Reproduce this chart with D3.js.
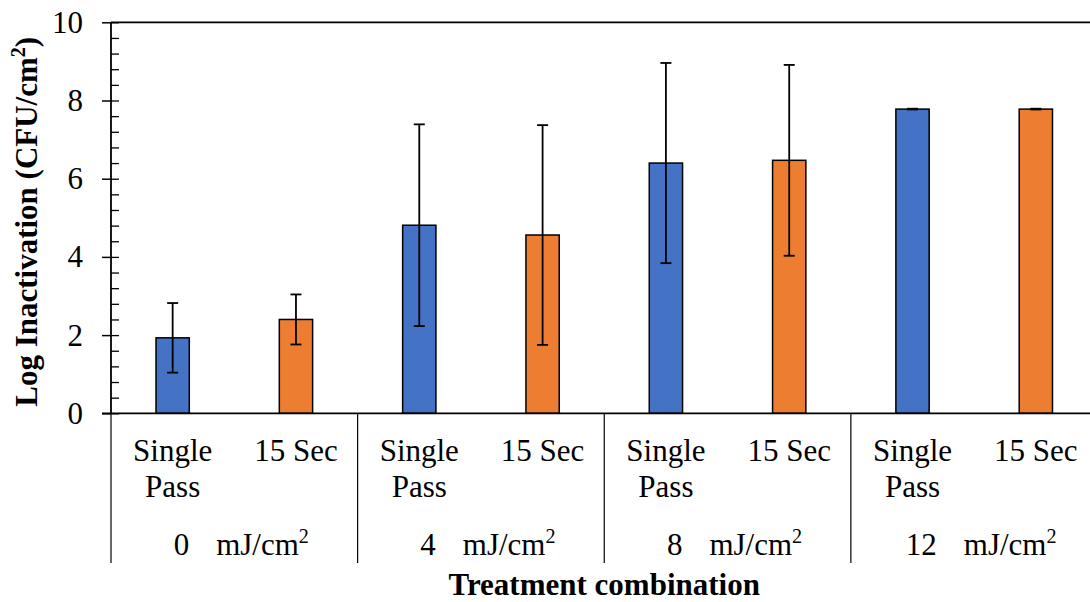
<!DOCTYPE html>
<html>
<head>
<meta charset="utf-8">
<script src="https://cdn.jsdelivr.net/npm/d3@7"></script>
</head>
<body style="margin:0">
<svg id="chart" width="1090" height="602"></svg>
<script>
// Dose groups (mJ/cm²) and exposure modes
const doses = ["0", "4", "8", "12"];
const modes = ["Single Pass", "15 Sec"];
const modeLines = [["Single", "Pass"], ["15 Sec"]];
const modeColors = ["#4472C4", "#ED7D31"];

// Mean log inactivation per dose, one array per mode
const singlePassMean = [1.93, 4.81, 6.40, 7.78];
const fifteenSecMean = [2.40, 4.56, 6.47, 7.78];
// Error bar half-widths
const singlePassErr = [0.89, 2.58, 2.56, 0.01];
const fifteenSecErr = [0.64, 2.81, 2.44, 0.01];

const yTicks = [0, 2, 4, 6, 8, 10];
const yMinorStep = 0.4;

const svg = d3.select("#chart");
const fontSize = 31;
const serif = '"Liberation Serif"';

const plotLeft = 111, plotRight = 1097.5, plotTop = 22.3, plotBottom = 413.3, catBottom = 563;

const x0 = d3.scaleBand().domain(doses).range([plotLeft, plotRight]).padding(0);
const x1 = d3.scaleBand().domain(modes).range([0, x0.bandwidth()])
  .paddingInner(0.73).paddingOuter(0.365);
const y = d3.scaleLinear().domain([0, 10]).range([plotBottom, plotTop]);

const rows = [];
doses.forEach((d, i) => {
  rows.push({ dose: d, mode: modes[0], value: singlePassMean[i], err: singlePassErr[i], color: modeColors[0] });
  rows.push({ dose: d, mode: modes[1], value: fifteenSecMean[i], err: fifteenSecErr[i], color: modeColors[1] });
});

// Top frame line
svg.append("line")
  .attr("x1", plotLeft).attr("x2", 1090).attr("y1", plotTop).attr("y2", plotTop)
  .attr("stroke", "#000").attr("stroke-width", 1.8);

// Bars
svg.append("g").selectAll("rect").data(rows).join("rect")
  .attr("x", d => x0(d.dose) + x1(d.mode))
  .attr("width", x1.bandwidth())
  .attr("y", d => y(d.value))
  .attr("height", d => y(0) - y(d.value))
  .attr("fill", d => d.color)
  .attr("stroke", "#000").attr("stroke-width", 1.5);

// Error bars
const eb = svg.append("g").attr("stroke", "#000").attr("stroke-width", 1.8);
const cx = d => x0(d.dose) + x1(d.mode) + x1.bandwidth() / 2;
eb.selectAll("line.v").data(rows).join("line").attr("class", "v")
  .attr("x1", cx).attr("x2", cx)
  .attr("y1", d => y(d.value + d.err)).attr("y2", d => y(d.value - d.err));
eb.selectAll("line.t").data(rows).join("line").attr("class", "t")
  .attr("x1", d => cx(d) - 5.5).attr("x2", d => cx(d) + 5.5)
  .attr("y1", d => y(d.value + d.err)).attr("y2", d => y(d.value + d.err));
eb.selectAll("line.b").data(rows).join("line").attr("class", "b")
  .attr("x1", d => cx(d) - 5.5).attr("x2", d => cx(d) + 5.5)
  .attr("y1", d => y(d.value - d.err)).attr("y2", d => y(d.value - d.err));

// Y axis: major ticks crossing the axis, minor ticks inside
const yAxis = svg.append("g").attr("transform", `translate(${plotLeft},0)`)
  .call(d3.axisLeft(y).tickValues(yTicks).tickSize(9).tickPadding(19).tickFormat(d3.format("d")));
yAxis.attr("font-family", null);
yAxis.select(".domain").remove();
yAxis.selectAll(".tick line").attr("stroke-width", 1.5);
yAxis.selectAll("text")
  .style("font-family", serif).attr("font-size", fontSize).attr("fill", "#000");

const minorVals = d3.range(0, 10 + 1e-6, yMinorStep);
svg.append("g").attr("transform", `translate(${plotLeft},0)`)
  .call(d3.axisRight(y).tickValues(minorVals).tickSize(8).tickFormat(""))
  .call(g => g.select(".domain").remove())
  .selectAll(".tick line").attr("stroke-width", 1.3);

// Axis lines
svg.append("line").attr("x1", plotLeft).attr("x2", plotLeft).attr("y1", plotTop).attr("y2", plotBottom)
  .attr("stroke", "#000").attr("stroke-width", 1.8);
svg.append("line").attr("x1", plotLeft - 9).attr("x2", 1090).attr("y1", plotBottom).attr("y2", plotBottom)
  .attr("stroke", "#000").attr("stroke-width", 1.8);

// Group dividers in the category area
const dividers = doses.map(d => x0(d)).concat([plotRight]);
svg.append("g").selectAll("line").data(dividers).join("line")
  .attr("x1", d => d).attr("x2", d => d)
  .attr("y1", plotBottom).attr("y2", catBottom)
  .attr("stroke", "#000").attr("stroke-width", 1.2);

// Mode labels
doses.forEach(d => {
  modes.forEach((m, j) => {
    const xc = x0(d) + x1(m) + x1.bandwidth() / 2;
    const t = svg.append("text")
      .attr("x", xc).attr("y", 461)
      .attr("text-anchor", "middle").attr("fill", "#000")
      .attr("font-size", fontSize)
      .style("font-family", serif);
    modeLines[j].forEach((line, k) => {
      t.append("tspan").attr("x", xc).attr("dy", k === 0 ? 0 : 36).text(line);
    });
  });
});

// Dose labels
doses.forEach(d => {
  const t = svg.append("text")
    .attr("x", x0(d) + x0.bandwidth() / 2 + 7)
    .attr("y", 555)
    .attr("text-anchor", "middle").attr("fill", "#000")
    .attr("font-size", fontSize)
    .style("font-family", serif);
  t.append("tspan").text(d);
  t.append("tspan").attr("dx", 27).text("mJ/cm");
  t.append("tspan").attr("font-size", fontSize * 0.65).attr("dy", -12).text("2");
});

// X axis title
svg.append("text")
  .attr("x", (plotLeft + plotRight) / 2).attr("y", 595)
  .attr("text-anchor", "middle")
  .attr("font-size", fontSize).attr("font-weight", "bold")
  .style("font-family", serif)
  .text("Treatment combination");

// Y axis title
const yt = svg.append("text")
  .attr("transform", `translate(37,${(plotTop + plotBottom) / 2 + 4}) rotate(-90)`)
  .attr("text-anchor", "middle")
  .attr("font-size", fontSize).attr("font-weight", "bold")
  .style("font-family", serif);
yt.append("tspan").text("Log Inactivation (CFU/cm");
yt.append("tspan").attr("font-size", fontSize * 0.65).attr("dy", -12).text("2");
yt.append("tspan").attr("dy", 12).text(")");
</script>
</body>
</html>
